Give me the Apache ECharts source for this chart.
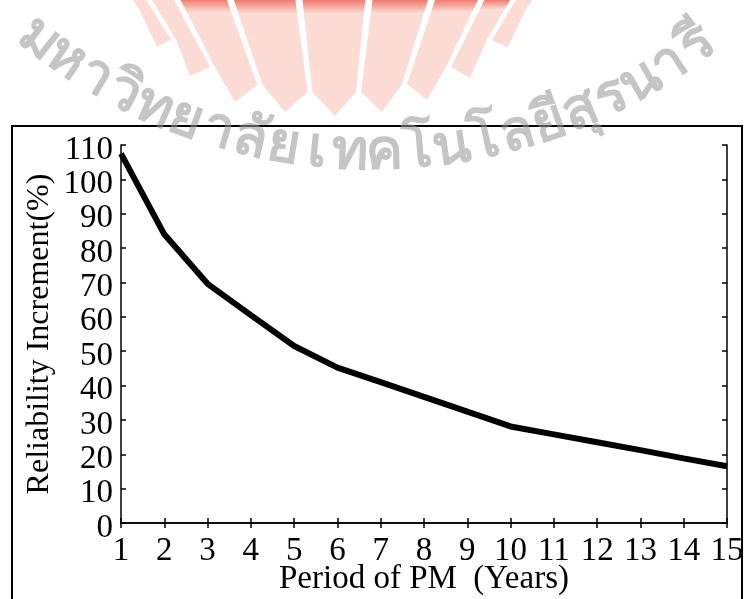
<!DOCTYPE html>
<html>
<head>
<meta charset="utf-8">
<script src="https://cdn.jsdelivr.net/npm/echarts@6/dist/echarts.min.js"></script>
<style>
  html, body { margin: 0; padding: 0; background: #fff; }
  #chart { width: 744px; height: 599px; }
</style>
</head>
<body>
<div id="chart"></div>
<script>
// years of PM period and reliability increment (%)
var years = [1, 2, 3, 4, 5, 6, 7, 8, 9, 10, 11, 12, 13, 14, 15];
var increment = [107.5, 84, 69.6, 60.5, 51.5, 45.2, 41, 36.7, 32.4, 28.1, 25.8, 23.5, 21.2, 18.8, 16.5];

var serif = '"Liberation Serif", "Times New Roman", serif';

// watermark text, split into clusters so marks stay on their base letter
var wmText = ['ม', 'ห', 'า', 'วิ', 'ท', 'ย', 'า', 'ลั', 'ย', 'เ', 'ท', 'ค', 'โ', 'น', 'โ', 'ล', 'ยี', 'สุ', 'ร', 'น', 'า', 'รี'];

function watermark() {
  var items = [];
  // logo stripes (fan shape at the top)
  var tips = [[157, 47], [190, 76], [235, 102], [285, 112], [335, 116], [382, 112], [427, 100], [470, 78], [508, 47]];
  var c = [335, 300];
  function topX(p) {
    var k = (p[0] - c[0]) / (p[1] - c[1]);
    return p[0] - p[1] * k;
  }
  for (var i = 0; i < tips.length; i++) {
    var t = tips[i];
    var prev = tips[i - 1] || [t[0] - 40, t[1] - 30];
    var next = tips[i + 1] || [t[0] + 40, t[1] - 30];
    var vl = [(prev[0] + t[0]) / 2 + 2.5, (prev[1] + t[1]) / 2 - 22];
    var vr = [(next[0] + t[0]) / 2 - 2.5, (next[1] + t[1]) / 2 - 22];
    var mid = i >= 2 && i <= 7;
    items.push({
      type: 'polygon',
      shape: { points: [[topX(vl), 0], [topX(vr), 0], vr, t, vl] },
      style: {
        fill: mid ? new echarts.graphic.LinearGradient(0, 0, 0, 1, [
          { offset: 0, color: '#f47a70' },
          { offset: 0.12, color: '#fcdcd4' },
          { offset: 1, color: '#fcdcd4' }
        ]) : '#fcdcd4'
      },
      z: 100
    });
  }
  // Thai name along an arc
  var cx = 372, cy = -387, r = 540;
  var a0 = -38, a1 = 37;
  wmText.forEach(function (ch, j) {
    var a = (a0 + (a1 - a0) * j / (wmText.length - 1)) * Math.PI / 180;
    items.push({
      type: 'text',
      x: cx + r * Math.sin(a),
      y: cy + r * Math.cos(a),
      rotation: a,
      style: {
        text: ch,
        fill: 'rgba(150,150,150,0.55)',
        font: 'bold 56px "Noto Sans", "DejaVu Sans", sans-serif',
        align: 'center',
        verticalAlign: 'middle'
      },
      z: 100
    });
  });
  // outer frame
  items.push({
    type: 'rect',
    shape: { x: 12, y: 126, width: 730, height: 490 },
    style: { fill: null, stroke: '#000', lineWidth: 2 },
    z: -1
  });
  return items;
}

var chart = echarts.init(document.getElementById('chart'));

var axisLine = { show: true, lineStyle: { color: '#000', width: 1.5 } };
var tick = { show: true, inside: true, length: 5, lineStyle: { color: '#000', width: 1.5 } };

var option = {
  backgroundColor: '#fff',
  animation: false,
  grid: { left: 121, top: 145, right: 17, bottom: 76, outerBoundsMode: 'none' },
  xAxis: [
    {
      type: 'value',
      min: 1,
      max: 15,
      interval: 1,
      name: 'Period of PM  (Years)',
      nameLocation: 'middle',
      nameGap: 40,
      nameMoveOverlap: false,
      nameTextStyle: { fontFamily: serif, fontSize: 33, color: '#000' },
      axisLine: axisLine,
      axisTick: tick,
      splitLine: { show: false },
      axisLabel: { fontFamily: serif, fontSize: 33, color: '#000', margin: 12 }
    },
    {
      type: 'value',
      position: 'top',
      min: 1,
      max: 15,
      interval: 1,
      axisLine: axisLine,
      axisTick: tick,
      splitLine: { show: false },
      axisLabel: { show: false }
    }
  ],
  yAxis: [
    {
      type: 'value',
      min: 0,
      max: 110,
      interval: 10,
      name: 'Reliability Increment(%)',
      nameLocation: 'middle',
      nameGap: 65,
      nameMoveOverlap: false,
      nameTextStyle: { fontFamily: serif, fontSize: 32, color: '#000' },
      axisLine: axisLine,
      axisTick: tick,
      splitLine: { show: false },
      axisLabel: {
        fontFamily: serif, fontSize: 33, color: '#000', margin: 8,
        verticalAlign: 'top', lineHeight: 10
      }
    },
    {
      type: 'value',
      position: 'right',
      min: 0,
      max: 110,
      interval: 10,
      axisLine: axisLine,
      axisTick: tick,
      splitLine: { show: false },
      axisLabel: { show: false }
    }
  ],
  series: [
    {
      type: 'line',
      data: years.map(function (y, i) { return [y, increment[i]]; }),
      showSymbol: false,
      lineStyle: { color: '#000', width: 6 },
      z: 3
    }
  ],
  graphic: watermark()
};

chart.setOption(option);
</script>
</body>
</html>
